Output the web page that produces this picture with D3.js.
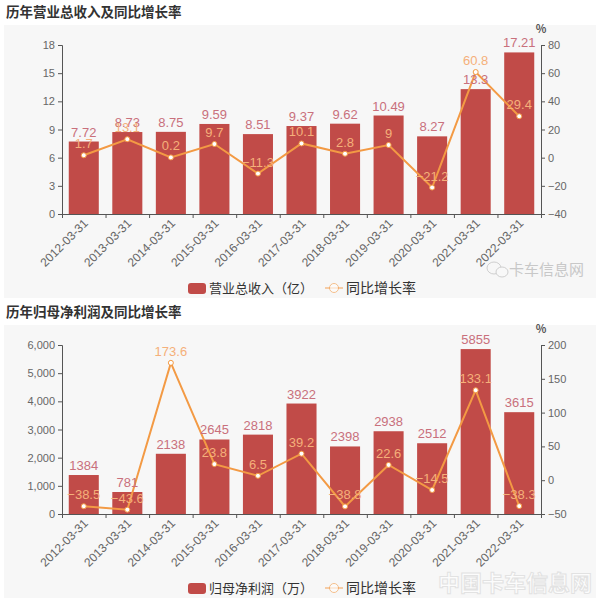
<!DOCTYPE html>
<html>
<head>
<meta charset="utf-8">
<script src="https://cdn.jsdelivr.net/npm/d3@7"></script>
<style>
  body { margin: 0; background: #fff; font-family: "Noto Sans CJK SC", "Noto Sans", sans-serif; }
</style>
</head>
<body>
<svg id="chart" width="600" height="600"></svg>
<script>
const dates = ["2012-03-31", "2013-03-31", "2014-03-31", "2015-03-31", "2016-03-31", "2017-03-31",
  "2018-03-31", "2019-03-31", "2020-03-31", "2021-03-31", "2022-03-31"];

const revenue = [7.72, 8.73, 8.75, 9.59, 8.51, 9.37, 9.62, 10.49, 8.27, 13.3, 17.21];
const revenueGrowth = [1.7, 13.1, 0.2, 9.7, -11.3, 10.1, 2.8, 9, -21.2, 60.8, 29.4];
const revenueTicks = [0, 3, 6, 9, 12, 15, 18];
const revenueGrowthTicks = [-40, -20, 0, 20, 40, 60, 80];

const profit = [1384, 781, 2138, 2645, 2818, 3922, 2398, 2938, 2512, 5855, 3615];
const profitGrowth = [-38.5, -43.6, 173.6, 23.8, 6.5, 39.2, -38.8, 22.6, -14.5, 133.1, -38.3];
const profitTicks = [0, 1000, 2000, 3000, 4000, 5000, 6000];
const profitGrowthTicks = [-50, 0, 50, 100, 150, 200];

const barColor = "#c14b48";
const lineColor = "#f39a44";
const barLabelColor = "#c9707c";
const lineLabelColor = "#f5b07a";
const axisColor = "#555";
const tickTextColor = "#666";

const svg = d3.select("#chart");

drawPanel({
  top: 0,
  title: "历年营业总收入及同比增长率",
  bars: revenue,
  line: revenueGrowth,
  leftTicks: revenueTicks,
  rightTicks: revenueGrowthTicks,
  leftFormat: d => d,
  barName: "营业总收入（亿）"
});

drawPanel({
  top: 300,
  title: "历年归母净利润及同比增长率",
  bars: profit,
  line: profitGrowth,
  leftTicks: profitTicks,
  rightTicks: profitGrowthTicks,
  leftFormat: d3.format(","),
  barName: "归母净利润（万）"
});

// watermarks
const wm = svg.append("g").attr("fill", "#c8c8c8");
wm.append("ellipse").attr("cx", 494).attr("cy", 268).attr("rx", 7).attr("ry", 6)
  .attr("fill", "none").attr("stroke", "#cfcfcf");
wm.append("ellipse").attr("cx", 502).attr("cy", 272).attr("rx", 6).attr("ry", 5)
  .attr("fill", "#f8f8f8").attr("stroke", "#cfcfcf");
wm.append("text").attr("x", 509).attr("y", 275).attr("font-size", 15).text("卡车信息网");
svg.append("text")
  .attr("x", 592).attr("y", 591).attr("text-anchor", "end")
  .attr("font-size", 22).attr("font-weight", "bold")
  .attr("fill", "#fcfcfc").attr("stroke", "#e2e2e2").attr("stroke-width", 1)
  .text("中国卡车信息网");

function drawPanel (cfg) {
  const g = svg.append("g").attr("transform", `translate(0, ${cfg.top})`);
  const left = 62;
  const right = 541;
  const plotTop = 45;
  const plotBottom = 214;

  g.append("rect")
    .attr("x", 4).attr("y", 25).attr("width", 592).attr("height", 273)
    .attr("fill", "#f7f7f7");

  g.append("text")
    .attr("x", 6).attr("y", 17)
    .attr("font-size", 13.5).attr("font-weight", "bold").attr("fill", "#333")
    .text(cfg.title);

  const x = d3.scaleBand()
    .domain(dates)
    .range([left, right])
    .paddingInner(0.31)
    .paddingOuter(0.155);

  const xLine = d => x(d) + x.bandwidth() / 2;

  const yLeft = d3.scaleLinear()
    .domain(d3.extent(cfg.leftTicks))
    .range([plotBottom, plotTop]);

  const yRight = d3.scaleLinear()
    .domain(d3.extent(cfg.rightTicks))
    .range([plotBottom, plotTop]);

  // bars
  g.selectAll("rect.bar")
    .data(cfg.bars)
    .enter().append("rect")
      .attr("class", "bar")
      .attr("x", (d, i) => x(dates[i]))
      .attr("y", d => yLeft(d))
      .attr("width", x.bandwidth())
      .attr("height", d => yLeft(0) - yLeft(d))
      .attr("fill", barColor);

  // axes
  const leftAxis = d3.axisLeft(yLeft)
    .tickValues(cfg.leftTicks)
    .tickSize(4)
    .tickPadding(3)
    .tickFormat(cfg.leftFormat);
  const rightAxis = d3.axisRight(yRight)
    .tickValues(cfg.rightTicks)
    .tickSize(4)
    .tickPadding(3)
    .tickFormat(d => d < 0 ? "−" + Math.abs(d) : d);
  const bottomAxis = d3.axisBottom(d3.scalePoint().domain(d3.range(dates.length + 1)).range([left, right]))
    .tickSize(4)
    .tickFormat("");

  [
    [leftAxis, `translate(${left}, 0)`],
    [rightAxis, `translate(${right}, 0)`],
    [bottomAxis, `translate(0, ${plotBottom})`]
  ].forEach(([axis, tr]) => {
    const a = g.append("g").attr("transform", tr).call(axis);
    a.select(".domain").attr("stroke", axisColor);
    a.selectAll(".tick line").attr("stroke", axisColor);
    a.selectAll(".tick text")
      .attr("fill", tickTextColor)
      .attr("font-size", 11)
      .attr("font-family", "Liberation Sans, Arial, sans-serif");
  });

  g.append("text")
    .attr("x", right).attr("y", 33)
    .attr("text-anchor", "middle")
    .attr("font-size", 11).attr("font-weight", "bold").attr("fill", "#555")
    .text("%");

  // rotated date labels
  g.selectAll("text.date")
    .data(dates)
    .enter().append("text")
      .attr("class", "date")
      .attr("text-anchor", "end")
      .attr("font-size", 12)
      .attr("fill", tickTextColor)
      .attr("font-family", "Liberation Sans, Arial, sans-serif")
      .attr("transform", d => `translate(${xLine(d) + 5}, ${plotBottom + 10}) rotate(-45)`)
      .text(d => d);

  // line
  const line = d3.line()
    .x((d, i) => xLine(dates[i]))
    .y(d => yRight(d));

  g.append("path")
    .datum(cfg.line)
    .attr("d", line)
    .attr("fill", "none")
    .attr("stroke", lineColor)
    .attr("stroke-width", 2);

  g.selectAll("circle.pt")
    .data(cfg.line)
    .enter().append("circle")
      .attr("class", "pt")
      .attr("cx", (d, i) => xLine(dates[i]))
      .attr("cy", d => yRight(d))
      .attr("r", 2.5)
      .attr("fill", "#fff")
      .attr("stroke", lineColor)
      .attr("stroke-width", 1);

  // bar labels
  g.selectAll("text.barLabel")
    .data(cfg.bars)
    .enter().append("text")
      .attr("class", "barLabel")
      .attr("x", (d, i) => xLine(dates[i]))
      .attr("y", d => yLeft(d) - 5)
      .attr("text-anchor", "middle")
      .attr("font-size", 13)
      .attr("fill", barLabelColor)
      .attr("font-family", "Liberation Sans, Arial, sans-serif")
      .text(d => d);

  // line labels
  g.selectAll("text.lineLabel")
    .data(cfg.line)
    .enter().append("text")
      .attr("class", "lineLabel")
      .attr("x", (d, i) => xLine(dates[i]))
      .attr("y", d => yRight(d) - 7)
      .attr("text-anchor", "middle")
      .attr("font-size", 13)
      .attr("fill", lineLabelColor)
      .attr("font-family", "Liberation Sans, Arial, sans-serif")
      .text(d => d < 0 ? "−" + Math.abs(d) : d);

  // legend
  const lg = g.append("g").attr("transform", "translate(188, 288)");
  lg.append("rect")
    .attr("x", 0).attr("y", -5).attr("width", 18).attr("height", 11).attr("rx", 3)
    .attr("fill", barColor);
  lg.append("text")
    .attr("x", 21).attr("y", 5)
    .attr("font-size", 13).attr("fill", "#333")
    .text(cfg.barName);
  lg.append("line")
    .attr("x1", 137).attr("x2", 155).attr("y1", 0).attr("y2", 0)
    .attr("stroke", lineColor).attr("stroke-width", 1.5).attr("opacity", 0.6);
  lg.append("circle")
    .attr("cx", 146).attr("cy", 0).attr("r", 4.5)
    .attr("fill", "#fff").attr("stroke", lineColor).attr("opacity", 0.6);
  lg.append("text")
    .attr("x", 158).attr("y", 5)
    .attr("font-size", 14).attr("fill", "#333")
    .text("同比增长率");
}
</script>
</body>
</html>
